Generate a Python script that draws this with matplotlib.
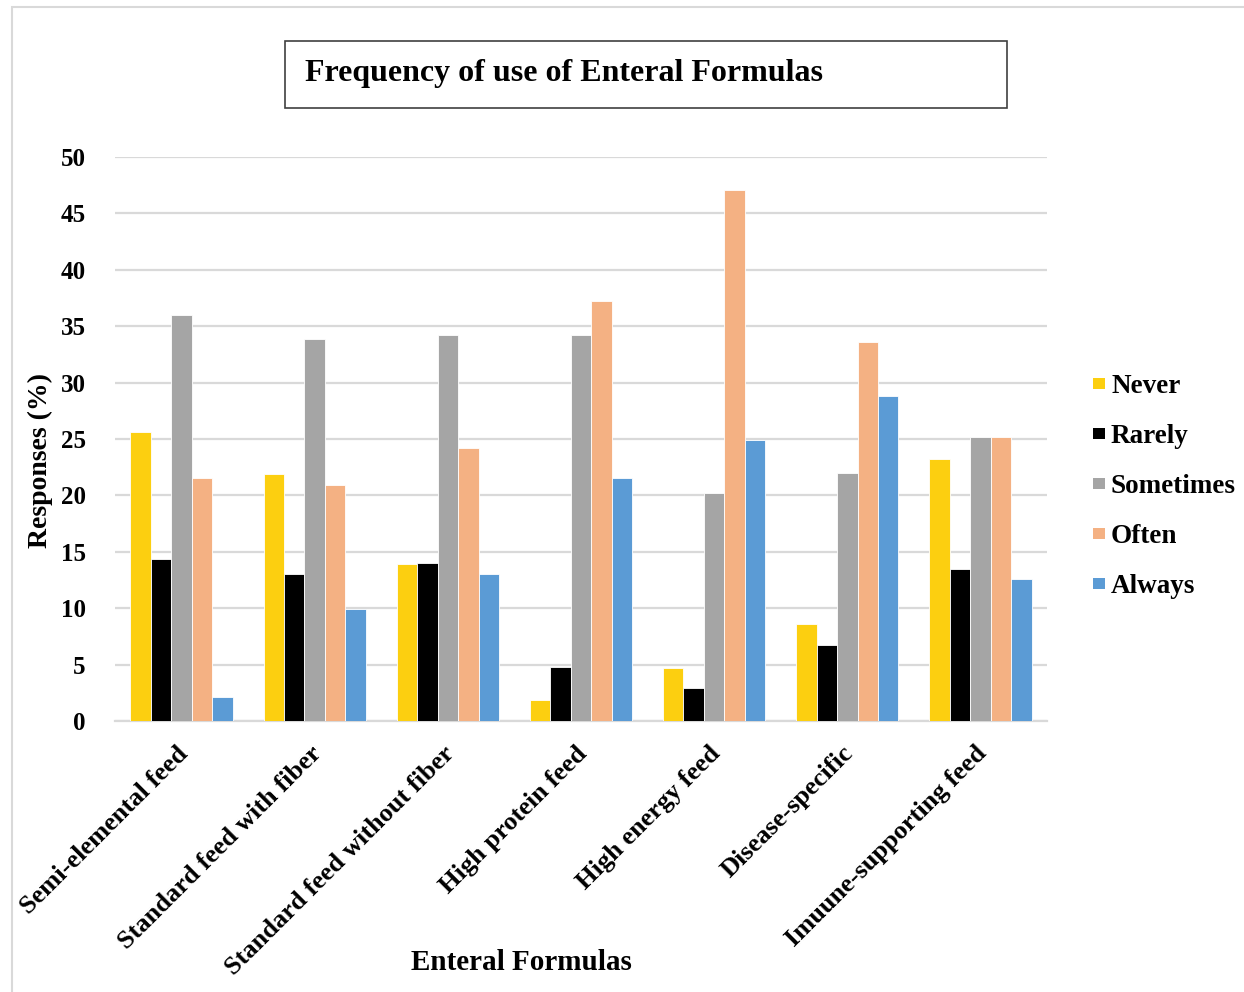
import numpy as np
import matplotlib.pyplot as plt
from matplotlib.patches import Rectangle

# ----------------------------- DATA -----------------------------------
categories = [
    "Semi-elemental feed",
    "Standard feed with fiber",
    "Standard feed without fiber",
    "High protein feed",
    "High energy feed",
    "Disease-specific",
    "Imuune-supporting feed",
]
series_names = ["Never", "Rarely", "Sometimes", "Often", "Always"]
never = [25.6, 21.9, 13.9, 1.9, 4.7, 8.6, 23.2]
rarely = [14.4, 13.0, 14.0, 4.8, 2.9, 6.7, 13.5]
sometimes = [36.0, 33.9, 34.2, 34.2, 20.2, 22.0, 25.2]
often = [21.5, 20.9, 24.2, 37.2, 47.1, 33.6, 25.2]
always = [2.1, 9.9, 13.0, 21.5, 24.9, 28.8, 12.6]
yticks = list(range(0, 51, 5))

colors = ["#fccf10", "#000000", "#a5a5a5", "#f4b183", "#5b9bd5"]

# ----------------------------- FIGURE ---------------------------------
W, H, DPI = 1244, 992, 100
plt.rcParams["font.family"] = ["Liberation Serif", "DejaVu Serif"]
plt.rcParams["font.weight"] = "bold"
fig = plt.figure(figsize=(W / DPI, H / DPI), dpi=DPI)


def px(x, y):
    # pixel coords (from top-left) -> figure fraction
    return x / W, 1 - y / H


# light outer frame (left and top edges visible)
fig.patches.append(Rectangle(px(12, H + 5), 1.2, 1 - 2 / H, transform=fig.transFigure,
                             fill=False, edgecolor="#d9d9d9", lw=1.5))

left, right, top, bottom = 115, 1047, 157, 721
ax = fig.add_axes([left / W, 1 - bottom / H, (right - left) / W, (bottom - top) / H])

values = [never, rarely, sometimes, often, always]
n = len(series_names)
bar_w = 1 / (n + 1.5)
x = np.arange(len(categories))
for i, (name, vals, col) in enumerate(zip(series_names, values, colors)):
    offs = (i - (n - 1) / 2) * bar_w
    ax.bar(x + offs, vals, width=bar_w, color=col, label=name, zorder=3,
           edgecolor="white", linewidth=0.6)

ax.set_xlim(-0.5, len(categories) - 0.5)
ax.set_ylim(0, 50)
ax.set_yticks(yticks)
ax.set_yticklabels([str(t) for t in yticks], fontsize=18, fontweight="bold")
ax.grid(axis="y", color="#d9d9d9", lw=1.6, zorder=0)
ax.tick_params(axis="both", length=0)
ax.tick_params(axis="y", pad=21)
for s in ["top", "right", "left"]:
    ax.spines[s].set_visible(False)
ax.spines["bottom"].set_color("#d9d9d9")
ax.spines["bottom"].set_linewidth(1.6)

ax.set_xticks(x - 0.04)
ax.set_xticklabels(categories, rotation=45, ha="right", va="top",
                   rotation_mode="anchor", fontsize=19, fontweight="bold")
ax.tick_params(axis="x", pad=15)

fig.text(*px(40, 461), "Responses (%)", rotation=90, ha="center", va="center",
         fontsize=20, fontweight="bold")
fig.text(*px(521, 962), "Enteral Formulas", ha="center", va="center",
         fontsize=21, fontweight="bold")

# title inside a boxed frame
fig.patches.append(Rectangle(px(285, 108), (1007 - 285) / W, (108 - 41) / H,
                             transform=fig.transFigure, fill=False,
                             edgecolor="#404040", lw=1.2))
fig.text(*px(305, 74), "Frequency of use of Enteral Formulas", ha="left",
         va="center", fontsize=23, fontweight="bold")

# legend: square swatches with labels stacked on the right
for i, (name, col) in enumerate(zip(series_names, colors)):
    yc = 383.5 + 50 * i
    fig.patches.append(Rectangle(px(1093, yc + 5.8), 11.6 / W, 11.6 / H,
                                 transform=fig.transFigure, facecolor=col,
                                 edgecolor="none"))
    fig.text(*px(1111, yc), name, ha="left", va="center_baseline",
             fontsize=19.5, fontweight="bold")

fig.savefig("out.png", dpi=DPI, facecolor="white")
